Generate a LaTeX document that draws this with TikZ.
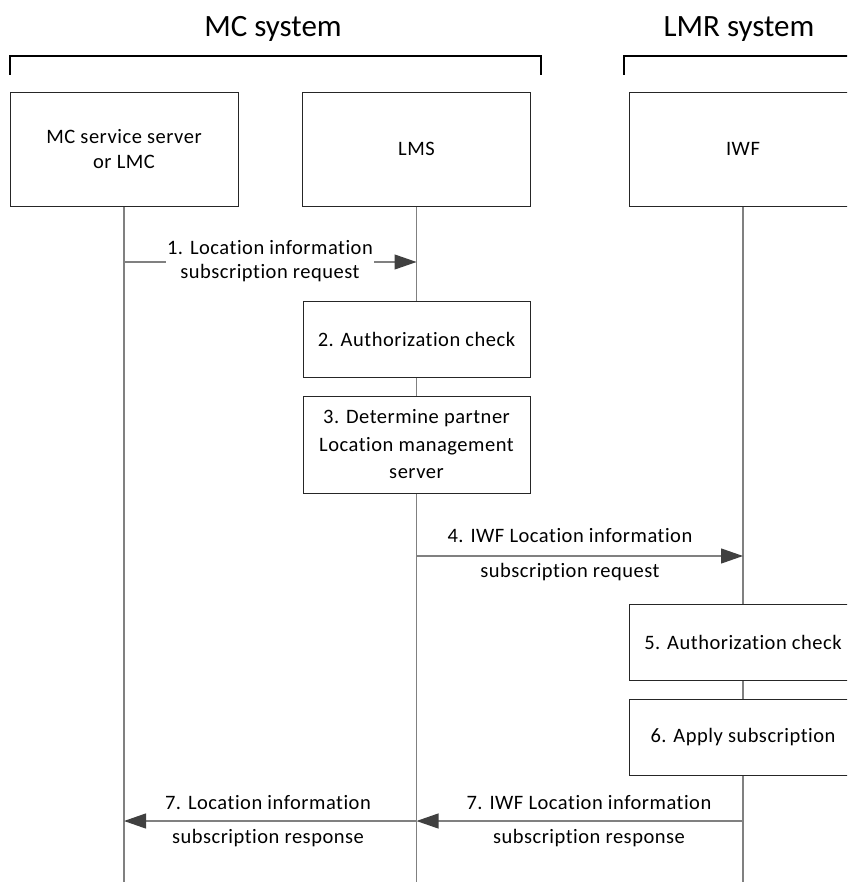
\documentclass[tikz,border=0pt]{standalone}
\usepackage{fontspec}
\setmainfont{Carlito}[Ligatures={NoCommon,NoContextual},LetterSpace=2.5]
\newfontfamily\titlefont{Carlito}[Ligatures={NoCommon,NoContextual}]
\usetikzlibrary{arrows.meta}
\definecolor{lifeg}{HTML}{808080}
\definecolor{headg}{HTML}{404040}
\definecolor{boxc}{HTML}{262626}
\begin{document}
\begin{tikzpicture}[x=1pt,y=-1pt,
  actor/.style={draw=boxc, line width=0.9pt, fill=white, minimum width=228pt, minimum height=114pt, align=center, inner sep=0pt, font=\fontsize{20.5}{25}\selectfont},
  stepbox/.style={draw=boxc, line width=0.9pt, fill=white, minimum width=227pt, align=center, inner sep=0pt, font=\fontsize{20.5}{27.5}\selectfont},
  life/.style={draw=lifeg, line width=1.2pt},
  msg/.style={draw=lifeg, line width=1.2pt, -{Triangle[length=22pt,width=15pt,fill=headg,color=headg]}},
  lbl/.style={font=\fontsize{20.5}{24}\selectfont, align=center, inner sep=1pt},
  titletxt/.style={font=\titlefont\fontsize{31}{36}\selectfont, inner sep=0pt},
  bracket/.style={draw=black, line width=2pt, line cap=butt, line join=miter}]
\useasboundingbox (0,0) rectangle (847,882);
\clip (0,0) rectangle (847,882);

% titles and brackets
\node[titletxt] (tmc) at (273,29) {MC system};
\node[titletxt] (tlmr) at (739,29) {LMR system};
\draw[bracket] (10,75) -- (10,56) -- (541,56) -- (541,75);
\draw[bracket] (624,75) -- (624,56) -- (860,56);

% end points of the lifelines
\coordinate (mcsE) at (124,882);
\coordinate (lmsE) at (416.5,882);
\coordinate (iwfE) at (743,882);

% lifelines (drawn first, boxes cover them)
\draw[life] (124,206) -- (mcsE);
\draw[life] (416.5,206) -- (lmsE);
\draw[life] (743,206) -- (iwfE);

% actor boxes
\node[actor] (mcs) at (124,149) {MC service server\\or LMC};
\node[actor] (lms) at (416.5,149) {LMS};
\node[actor] (iwf) at (743,149) {IWF};

% step boxes
\node[stepbox, minimum height=76pt] (s2) at (416.5,339) {2. Authorization check};
\node[stepbox, minimum height=97pt] (s3) at (416.5,444.5) {3. Determine partner\\Location management\\server};
\node[stepbox, minimum width=228pt, minimum height=76pt] (s5) at (743,642) {5. Authorization check};
\node[stepbox, minimum width=228pt, minimum height=76pt] (s6) at (743,737) {6. Apply subscription};

% message anchor points on lifelines
\coordinate (m1a) at (124,262);
\coordinate (m1b) at (416.5,262);
\coordinate (m4a) at (416.5,556);
\coordinate (m4b) at (743,556);
\coordinate (m7a) at (743,821);
\coordinate (m7b) at (416.5,821);
\coordinate (m7c) at (124,821);

% 1.
\draw[msg] (m1a) -- (m1b);
\node[lbl, fill=white] (l1) at (270,261) {1. Location information\\subscription request};

% 4.
\draw[msg] (m4a) -- (m4b);
\node[lbl] (l4a) at (570,536) {4. IWF Location information};
\node[lbl] (l4b) at (570,572) {subscription request};

% 7. IWF
\draw[msg] (m7a) -- (m7b);
\node[lbl] (l7a) at (589,803) {7. IWF Location information};
\node[lbl] (l7b) at (589,838) {subscription response};

% 7.
\draw[msg] (m7b) -- (m7c);
\node[lbl] (l7c) at (268,803) {7. Location information};
\node[lbl] (l7d) at (268,838) {subscription response};
\end{tikzpicture}
\end{document}
